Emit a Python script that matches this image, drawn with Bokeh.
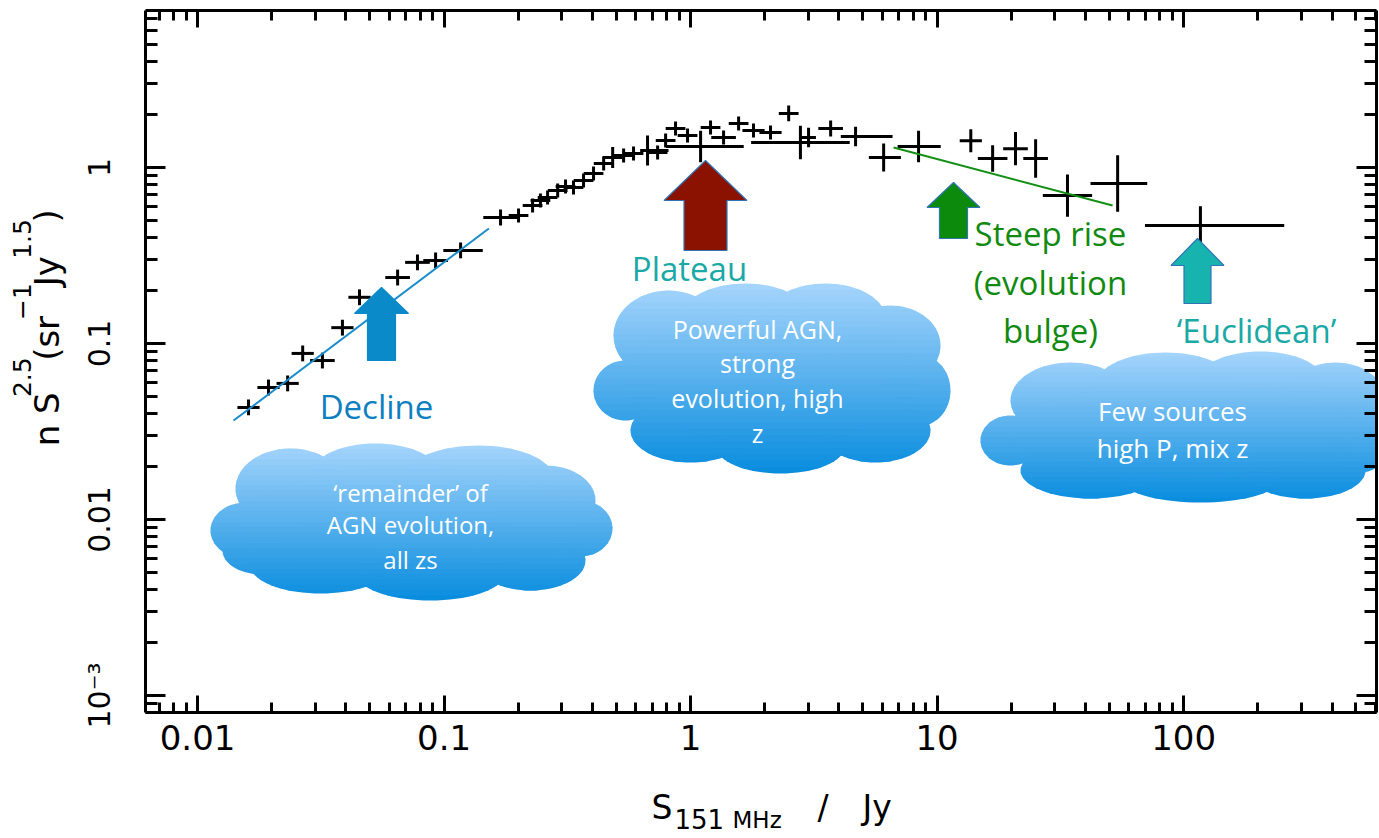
import math
from bokeh.plotting import figure
from bokeh.layouts import column, row
from bokeh.models import (Range1d, LinearScale, FixedTicker, LogAxis,
                          CustomJSTickFormatter, Label, ColumnDataSource)
from bokeh.embed import file_html
from bokeh.resources import INLINE

# ---------------- data ----------------
flux = [0.0161, 0.0194, 0.0232, 0.0267, 0.0321, 0.0387, 0.0454, 0.0648, 0.0780, 0.0924,
        0.1167, 0.1695, 0.2005, 0.2286, 0.246, 0.263, 0.289, 0.311, 0.335, 0.368,
        0.404, 0.444, 0.483, 0.535, 0.587, 0.669, 0.735, 0.792, 0.869, 0.972,
        1.098, 1.205, 1.361, 1.566, 1.80, 2.11, 2.50, 2.79, 3.01, 3.70,
        4.67, 6.07, 8.41, 13.7, 16.8, 20.8, 25.1, 33.8, 54.0, 117.0]
counts = [0.0433, 0.0562, 0.0593, 0.0878, 0.080, 0.123, 0.183, 0.237, 0.289, 0.296,
          0.338, 0.520, 0.534, 0.608, 0.649, 0.676, 0.740, 0.780, 0.769, 0.844,
          0.925, 1.054, 1.14, 1.17, 1.20, 1.249, 1.217, 1.423, 1.666, 1.52,
          1.316, 1.687, 1.48, 1.778, 1.623, 1.58, 2.03, 1.387, 1.48, 1.666,
          1.50, 1.14, 1.316, 1.42, 1.125, 1.28, 1.125, 0.693, 0.811, 0.468]
# error bars, in dex
flux_err_lo = [0.045, 0.045, 0.045, 0.045, 0.05, 0.045, 0.045, 0.05, 0.05, 0.05,
               0.07, 0.07, 0.04, 0.04, 0.04, 0.04, 0.04, 0.04, 0.04, 0.04,
               0.04, 0.04, 0.04, 0.04, 0.04, 0.03, 0.04, 0.04, 0.04, 0.04,
               0.14, 0.04, 0.05, 0.04, 0.045, 0.045, 0.04, 0.2, 0.03, 0.05,
               0.06, 0.06, 0.085, 0.045, 0.06, 0.05, 0.05, 0.1, 0.11, 0.225]
flux_err_hi = [0.045, 0.045, 0.045, 0.045, 0.05, 0.045, 0.045, 0.05, 0.05, 0.05,
               0.09, 0.07, 0.04, 0.04, 0.04, 0.04, 0.04, 0.04, 0.04, 0.04,
               0.04, 0.04, 0.04, 0.04, 0.04, 0.085, 0.04, 0.04, 0.04, 0.04,
               0.175, 0.04, 0.05, 0.04, 0.045, 0.045, 0.04, 0.2, 0.03, 0.05,
               0.15, 0.07, 0.09, 0.045, 0.06, 0.05, 0.05, 0.1, 0.12, 0.34]
counts_err = [0.045, 0.045, 0.045, 0.045, 0.045, 0.045, 0.045, 0.045, 0.045, 0.045,
              0.045, 0.045, 0.04, 0.04, 0.04, 0.04, 0.04, 0.04, 0.04, 0.04,
              0.04, 0.04, 0.06, 0.04, 0.04, 0.085, 0.04, 0.04, 0.04, 0.04,
              0.09, 0.04, 0.04, 0.04, 0.04, 0.04, 0.045, 0.095, 0.055, 0.045,
              0.055, 0.08, 0.09, 0.065, 0.075, 0.095, 0.11, 0.12, 0.16, 0.11]

decline_fit_S = [0.0140, 0.152]
decline_fit_N = [0.0365, 0.450]
rise_fit_S = [6.66, 51.5]
rise_fit_N = [1.30, 0.608]

x_major = [0.01, 0.1, 1, 10, 100]
x_tick_labels = ["0.01", "0.1", "1", "10", "100"]
y_major = [0.001, 0.01, 0.1, 1]
y_tick_labels = ["10\u207b\u00b3", "0.01", "0.1", "1"]

# ---------------- layout ----------------
W, H = 1379, 838
YLAB_W = 70          # strip on the left holding the y-axis title
XLAB_H = 68          # strip at the bottom holding the x-axis title
PW, PH = W - YLAB_W, H - XLAB_H
L, R, T, B = 145, 3, 10, 126     # frame margins in whole-page pixels
FW, FH = W - L - R, H - T - B

p = figure(width=PW, height=PH, x_axis_type="log", y_axis_type="log",
           x_range=Range1d(0.00615, 606), y_range=Range1d(8.0e-4, 7.8),
           output_backend="svg", toolbar_location=None,
           min_border_left=L - YLAB_W, min_border_right=R, min_border_top=T,
           min_border_bottom=B - XLAB_H)
p.outline_line_color = None
p.xgrid.visible = False
p.ygrid.visible = False
p.background_fill_color = "white"
p.border_fill_color = "white"

p.extra_x_ranges = {"px": Range1d(0, FW)}
p.extra_y_ranges = {"py": Range1d(FH, 0)}
p.extra_x_scales = {"px": LinearScale()}
p.extra_y_scales = {"py": LinearScale()}


def fx(X):
    return X - L


def fy(Y):
    return Y - T


def minors(lo, hi):
    return [m * 10.0 ** k for k in range(lo, hi) for m in range(2, 10)]


fmt_code = """
for (let i = 0; i < tv.length; i++) {
  if (Math.abs(Math.log10(tv[i]) - Math.log10(tick)) < 1e-6) return tl[i];
}
return "";
"""
AX_FONT = "DejaVu Sans"


def style_axis(ax, tin, tmin):
    ax.axis_line_width = 3
    ax.axis_line_color = "black"
    ax.major_tick_line_width = 3
    ax.minor_tick_line_width = 3
    ax.major_tick_in = tin
    ax.major_tick_out = 0
    ax.minor_tick_in = tmin
    ax.minor_tick_out = 0
    ax.major_label_text_font = AX_FONT
    ax.major_label_text_color = "black"


xb = p.xaxis[0]
xb.ticker = FixedTicker(ticks=x_major, minor_ticks=minors(-3, 3))
xb.formatter = CustomJSTickFormatter(args=dict(tv=x_major, tl=x_tick_labels), code=fmt_code)
style_axis(xb, 17, 10)
xb.major_label_text_font_size = "34px"
xb.major_label_standoff = 12

yl = p.yaxis[0]
yl.ticker = FixedTicker(ticks=y_major, minor_ticks=minors(-4, 1))
yl.formatter = CustomJSTickFormatter(args=dict(tv=y_major, tl=y_tick_labels), code=fmt_code)
style_axis(yl, 20, 12)
yl.major_label_text_font_size = "30px"
yl.major_label_orientation = "vertical"
yl.major_label_standoff = 28

blank = "return '';"
xt = LogAxis(ticker=FixedTicker(ticks=x_major, minor_ticks=minors(-3, 3)),
             formatter=CustomJSTickFormatter(code=blank))
style_axis(xt, 17, 10)
xt.major_label_text_font_size = "0px"
xt.major_label_standoff = 0
p.add_layout(xt, "above")

yr = LogAxis(ticker=FixedTicker(ticks=y_major, minor_ticks=minors(-4, 1)),
             formatter=CustomJSTickFormatter(code=blank))
style_axis(yr, 20, 12)
yr.major_label_text_font_size = "0px"
yr.major_label_standoff = 0
p.add_layout(yr, "right")

# ---------------- data marks ----------------
src = ColumnDataSource(dict(
    S=flux, N=counts,
    Slo=[s * 10 ** -d for s, d in zip(flux, flux_err_lo)],
    Shi=[s * 10 ** d for s, d in zip(flux, flux_err_hi)],
    Nlo=[n * 10 ** -d for n, d in zip(counts, counts_err)],
    Nhi=[n * 10 ** d for n, d in zip(counts, counts_err)],
))
p.segment(x0="Slo", y0="N", x1="Shi", y1="N", source=src, line_color="black", line_width=3)
p.segment(x0="S", y0="Nlo", x1="S", y1="Nhi", source=src, line_color="black", line_width=3)

p.line(decline_fit_S, decline_fit_N, line_color="#1b8cca", line_width=2)
p.line(rise_fit_S, rise_fit_N, line_color="#138f13", line_width=2)

# ---------------- clouds ----------------
def ellipse_pts(cx, cy, rx, ry, n=72):
    return [(cx + rx * math.cos(2 * math.pi * i / n), cy + ry * math.sin(2 * math.pi * i / n))
            for i in range(n)]


def clip_half(pts, keep, c):
    out = []
    for i in range(len(pts)):
        cur, prev = pts[i], pts[i - 1]
        kc, kp = keep(cur), keep(prev)
        if kc != kp:
            t = (c - prev[1]) / (cur[1] - prev[1])
            out.append((prev[0] + t * (cur[0] - prev[0]), c))
        if kc:
            out.append(cur)
    return out


def draw_cloud(lobes, top=(166, 213, 252), bottom=(8, 140, 222), nb=30):
    y_min = min(cy - ry for cx, cy, rx, ry in lobes)
    y_max = max(cy + ry for cx, cy, rx, ry in lobes)
    h = (y_max - y_min) / nb
    xs, ys, cols = [], [], []
    polys = [ellipse_pts(*lb) for lb in lobes]
    for i in range(nb):
        y0 = y_min + i * h
        y1 = y0 + h + 1.0
        t = (i + 0.5) / nb
        col = "#%02x%02x%02x" % tuple(int(round(a + (b - a) * t)) for a, b in zip(top, bottom))
        for poly in polys:
            q = clip_half(poly, lambda pt: pt[1] >= y0, y0)
            if len(q) < 3:
                continue
            q = clip_half(q, lambda pt: pt[1] <= y1, y1)
            if len(q) < 3:
                continue
            xs.append([fx(a) for a, b in q])
            ys.append([fy(b) for a, b in q])
            cols.append(col)
    p.patches(xs=xs, ys=ys, fill_color=cols, line_color=None,
              x_range_name="px", y_range_name="py")


cloud1 = [(290, 488, 55, 40), (375, 475, 65, 32), (478, 478, 75, 33), (545, 500, 50, 35),
          (580, 528, 32, 28), (530, 560, 55, 30), (430, 572, 75, 28), (320, 565, 70, 28),
          (245, 530, 35, 28), (262, 550, 40, 24), (410, 522, 170, 55)]
cloud2 = [(668, 335, 55, 45), (745, 318, 65, 35), (825, 318, 60, 35), (890, 345, 50, 40),
          (920, 390, 30, 35), (875, 430, 55, 32), (780, 445, 65, 28), (690, 430, 60, 32),
          (625, 390, 32, 30), (772, 378, 150, 65)]
cloud3 = [(1070, 400, 60, 38), (1165, 385, 70, 33), (1260, 383, 65, 32), (1335, 400, 50, 38),
          (1360, 440, 30, 32), (1305, 470, 60, 28), (1200, 478, 80, 24), (1090, 470, 70, 28),
          (1010, 440, 30, 25), (1180, 430, 175, 45)]
for c in (cloud1, cloud2, cloud3):
    draw_cloud(c)

# ---------------- arrows ----------------
def arrow(tx, ty, hh, hl, sh, by, fill, line=None):
    pts = [(tx, ty), (tx + hh, ty + hl), (tx + sh, ty + hl), (tx + sh, by),
           (tx - sh, by), (tx - sh, ty + hl), (tx - hh, ty + hl)]
    p.patch([fx(a) for a, b in pts], [fy(b) for a, b in pts], fill_color=fill,
            line_color=line if line else fill, line_width=1.2,
            x_range_name="px", y_range_name="py")


arrow(381, 287, 27, 26, 14, 360, "#0a8ac8")
arrow(705, 160, 41.5, 40, 21.5, 250, "#8b1200", "#2f75b5")
arrow(953, 182, 26.5, 25, 14, 238, "#0b8a0b", "#2f75b5")
arrow(1197, 238, 26.5, 27, 13.5, 303, "#17b3ae", "#2f75b5")

# ---------------- annotation texts ----------------
TXT_FONT = "Open Sans"


def label(X, Y, text, size, color, align="center", baseline="middle", font=TXT_FONT, angle=0.0):
    p.add_layout(Label(x=fx(X), y=fy(Y), x_range_name="px", y_range_name="py", text=text,
                       text_font=font, text_font_size="%dpx" % size, text_color=color,
                       text_align=align, text_baseline=baseline, angle=angle))


label(376, 406, "Decline", 33, "#0e7fc1")
label(689, 268, "Plateau", 33, "#1aa9a6")
label(1050, 233, "Steep rise", 33, "#118a11")
label(1050, 282, "(evolution", 33, "#118a11")
label(1050, 330, "bulge)", 33, "#118a11")
label(1256, 330, "\u2018Euclidean\u2019", 33, "#1aa9a6")

for yy, t in zip([492, 524, 559], ["\u2018remainder\u2019 of", "AGN evolution,", "all zs"]):
    label(410, yy, t, 24, "white")
for yy, t in zip([328, 362, 397, 432], ["Powerful AGN,", "strong", "evolution, high", "z"]):
    label(757, yy, t, 25, "white")
for yy, t in zip([410, 447], ["Few sources", "high P, mix z"]):
    label(1172, yy, t, 26, "white")


# ---------------- axis-title strips ----------------
def strip(w, h):
    f = figure(width=w, height=h, x_range=Range1d(0, w), y_range=Range1d(h, 0),
               x_axis_location=None, y_axis_location=None, toolbar_location=None,
               output_backend="svg", min_border=0)
    f.outline_line_color = None
    f.grid.visible = False
    f.background_fill_color = "white"
    f.border_fill_color = "white"
    return f


ADV = {"n": 0.634, " ": 0.318, "S": 0.635, "(": 0.390, ")": 0.390, "s": 0.521, "r": 0.411,
       "J": 0.295, "y": 0.592, ".": 0.318, "\u2212": 0.838, "M": 0.863, "H": 0.752,
       "z": 0.525, "/": 0.337}
MID = 0.35   # distance from baseline to the text box middle, in em


def adv(t, size):
    return sum(ADV.get(ch, 0.636) for ch in t) * size


def tlabel(f, x, y, text, size, angle=0.0):
    f.add_layout(Label(x=x, y=y, text=text, text_font=AX_FONT, text_font_size="%dpx" % size,
                       text_color="black", text_align="left", text_baseline="middle",
                       angle=angle))


# x axis title: (left x, baseline y) in page pixels
xlab = strip(W, XLAB_H)
for X, Yb, t, size in [(651, 819, "S", 33), (674, 828, "151", 26), (732, 828, "MHz", 23),
                       (817, 819, "/", 33), (862, 819, "Jy", 33)]:
    tlabel(xlab, X, Yb - MID * size - PH, t, size)

# y axis title (rotated, reads bottom to top)
ylab = strip(YLAB_W, PH)
parts = [("n S", False), ("2.5", True), ("(sr", False), ("\u22121", True),
         ("Jy", False), ("1.5", True), (")", False)]
Ycur = 478.0
for t, sup in parts:
    size = 25 if sup else 34
    Xb = 30 if sup else 58
    tlabel(ylab, Xb - MID * size, Ycur, t, size, angle=math.pi / 2)
    Ycur -= adv(t, size)

page = column(row(ylab, p, spacing=0), xlab, spacing=0)
open("out.html", "w").write(file_html(page, INLINE))
